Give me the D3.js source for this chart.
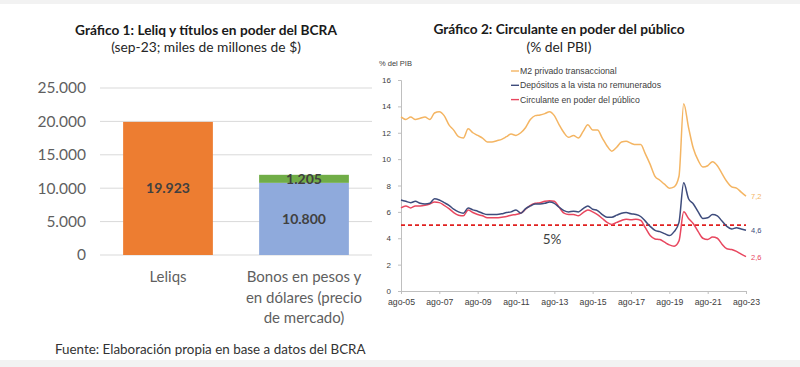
<!doctype html>
<html lang="es">
<head>
  <meta charset="utf-8">
  <script src="https://cdnjs.cloudflare.com/ajax/libs/d3/7.8.5/d3.min.js"></script>
  <style>
    body { margin: 0; background: #fff; }
    svg { display: block; }
  </style>
</head>
<body>
  <div id="chart"></div>
  <script>
    // ---- Gráfico 1 data
    var barCats = ["Leliqs", "Bonos"];
    var barCatLines = [["Leliqs"], ["Bonos en pesos y", "en dólares (precio", "de mercado)"]];
    var leliqs = [19923, 0];
    var bonosBase = [0, 10800];
    var bonosTop = [0, 1205];
    var barTicks = [0, 5000, 10000, 15000, 20000, 25000];

    // ---- Gráfico 2 data (quarterly, % del PIB)
    var dates = [
      "2005-08","2005-11","2006-02","2006-05","2006-08","2006-11","2007-02","2007-05","2007-08","2007-11",
      "2008-02","2008-05","2008-08","2008-11","2009-02","2009-05","2009-08","2009-11","2010-02","2010-05",
      "2010-08","2010-11","2011-02","2011-05","2011-08","2011-11","2012-02","2012-05","2012-08","2012-11",
      "2013-02","2013-05","2013-08","2013-11","2014-02","2014-05","2014-08","2014-11","2015-02","2015-05",
      "2015-08","2015-11","2016-02","2016-05","2016-08","2016-11","2017-02","2017-05","2017-08","2017-11",
      "2018-02","2018-05","2018-08","2018-11","2019-02","2019-05","2019-08","2019-11","2020-02","2020-05",
      "2020-08","2020-11","2021-02","2021-05","2021-08","2021-11","2022-02","2022-05","2022-08","2022-11",
      "2023-02","2023-05","2023-08"
    ];
    var m2 = [
      13.2,13.0,13.2,13.0,13.1,13.2,13.0,13.5,13.6,13.3,
      12.6,12.2,11.7,11.6,12.3,12.0,11.8,11.6,11.3,11.3,
      11.4,11.5,11.7,11.9,11.8,12.0,12.4,13.0,13.3,13.35,
      13.45,13.6,13.3,12.6,12.0,11.65,11.8,11.6,12.1,12.6,
      12.2,12.2,11.6,11.0,10.6,10.9,11.3,11.35,11.2,11.1,
      11.1,10.4,9.6,8.7,8.4,8.1,7.8,7.9,8.7,14.2,
      12.4,10.8,9.9,9.4,9.5,9.8,9.5,8.9,8.3,7.9,
      7.8,7.5,7.2
    ];
    var depositos = [
      6.9,6.8,6.7,6.8,6.65,6.6,6.65,7.0,6.9,6.7,
      6.5,6.2,6.0,5.9,6.3,6.15,6.05,5.9,5.8,5.8,
      5.8,5.85,5.95,6.0,6.15,5.9,6.25,6.45,6.6,6.6,
      6.65,6.75,6.65,6.35,6.1,6.0,6.05,6.0,6.25,6.45,
      6.2,6.1,5.8,5.6,5.6,5.75,5.9,5.95,5.85,5.8,
      5.65,5.3,4.9,4.6,4.5,4.35,4.2,4.5,5.2,8.2,
      7.0,6.6,6.0,5.5,5.55,5.8,5.7,5.3,4.9,4.7,
      4.8,4.7,4.6
    ];
    var circulante = [
      6.3,6.45,6.3,6.45,6.45,6.5,6.6,6.75,6.7,6.5,
      6.25,5.95,5.75,5.7,6.15,5.95,5.8,5.7,5.55,5.55,
      5.55,5.6,5.65,5.75,5.8,5.9,6.2,6.5,6.65,6.7,
      6.8,6.85,6.8,6.35,5.9,5.8,5.8,5.7,5.95,6.15,
      6.0,5.8,5.5,5.2,5.05,5.2,5.35,5.45,5.4,5.45,
      5.35,4.8,4.2,3.95,3.9,3.7,3.5,3.4,3.8,6.0,
      5.5,5.1,4.5,4.0,3.9,4.1,4.0,3.55,3.2,3.15,
      3.0,2.8,2.6
    ];
    var seriesNames = ["M2 privado transaccional", "Depósitos a la vista no remunerados", "Circulante en poder del público"];
    var seriesColors = ["#f4b563", "#3e4c7c", "#e8475f"];
    var endLabels = ["7,2", "4,6", "2,6"];
    var lineTicks = [0, 2, 4, 6, 8, 10, 12, 14, 16];
    var xTickDates = ["2005-08","2007-08","2009-08","2011-08","2013-08","2015-08","2017-08","2019-08","2021-08","2023-08"];
    var xTickLabels = ["ago-05","ago-07","ago-09","ago-11","ago-13","ago-15","ago-17","ago-19","ago-21","ago-23"];
    var refLevel = 5;

    var width = 800, height = 367;
    var svg = d3.select("#chart").append("svg")
      .attr("width", width)
      .attr("height", height);

    // grey strips top and bottom
    svg.append("rect").attr("x", 0).attr("y", 0).attr("width", width).attr("height", 4).attr("fill", "#f2f2f2");
    svg.append("rect").attr("x", 0).attr("y", 360).attr("width", width).attr("height", 7).attr("fill", "#f2f2f2");

    var leftFont = "Lato, 'Open Sans', sans-serif";
    var rightFont = "'Liberation Sans', Arial, sans-serif";

    // ================= Gráfico 1 =================
    var g1 = svg.append("g");
    g1.append("text").attr("x", 206).attr("y", 35).attr("text-anchor", "middle")
      .style("font-family", leftFont).style("font-size", "13.7px").style("font-weight", "bold").attr("fill", "#1a1a1a")
      .text("Gráfico 1: Leliq y títulos en poder del BCRA");
    g1.append("text").attr("x", 206).attr("y", 52).attr("text-anchor", "middle")
      .style("font-family", leftFont).style("font-size", "13.8px").attr("fill", "#262626")
      .text("(sep-23; miles de millones de $)");

    var xb = d3.scaleBand().domain(barCats).range([100, 372]).paddingInner(0.34).paddingOuter(0.17);
    var yb = d3.scaleLinear().domain([0, 25000]).range([255, 88]);

    // gridlines
    g1.append("g").selectAll("line").data(barTicks).enter().append("line")
      .attr("x1", 100).attr("x2", 372)
      .attr("y1", function(d) { return yb(d); })
      .attr("y2", function(d) { return yb(d); })
      .attr("stroke", "#d9d9d9").attr("stroke-width", 1);

    var yAxisB = d3.axisLeft(yb).tickValues(barTicks).tickSize(0).tickPadding(0)
      .tickFormat(function(d) { return d3.format(",")(d).replace(/,/g, "."); });
    var yAx = g1.append("g").attr("transform", "translate(86,0)").call(yAxisB);
    yAx.select(".domain").remove();
    yAx.selectAll("text").style("font-family", leftFont).style("font-size", "15.5px").attr("fill", "#5f5f5f");

    // bars
    var idx = d3.range(barCats.length);
    g1.append("g").selectAll("rect.lel").data(idx.filter(function(i) { return leliqs[i] > 0; })).enter().append("rect")
      .attr("x", function(i) { return xb(barCats[i]); })
      .attr("y", function(i) { return yb(leliqs[i]); })
      .attr("width", xb.bandwidth())
      .attr("height", function(i) { return yb(0) - yb(leliqs[i]); })
      .attr("fill", "#ed7d31");
    g1.append("g").selectAll("rect.base").data(idx.filter(function(i) { return bonosBase[i] > 0; })).enter().append("rect")
      .attr("x", function(i) { return xb(barCats[i]); })
      .attr("y", function(i) { return yb(bonosBase[i]); })
      .attr("width", xb.bandwidth())
      .attr("height", function(i) { return yb(0) - yb(bonosBase[i]); })
      .attr("fill", "#8faadc");
    g1.append("g").selectAll("rect.top").data(idx.filter(function(i) { return bonosTop[i] > 0; })).enter().append("rect")
      .attr("x", function(i) { return xb(barCats[i]); })
      .attr("y", function(i) { return yb(bonosBase[i] + bonosTop[i]); })
      .attr("width", xb.bandwidth())
      .attr("height", function(i) { return yb(bonosBase[i]) - yb(bonosBase[i] + bonosTop[i]); })
      .attr("fill", "#70ad47");

    // bar labels
    var fmt = function(v) { return d3.format(",")(v).replace(/,/g, "."); };
    var labels = [];
    idx.forEach(function(i) {
      var cx = xb(barCats[i]) + xb.bandwidth() / 2;
      if (leliqs[i] > 0) labels.push({x: cx, y: (yb(0) + yb(leliqs[i])) / 2, t: fmt(leliqs[i])});
      if (bonosBase[i] > 0) labels.push({x: cx, y: (yb(0) + yb(bonosBase[i])) / 2, t: fmt(bonosBase[i])});
      if (bonosTop[i] > 0) labels.push({x: cx, y: (yb(bonosBase[i]) + yb(bonosBase[i] + bonosTop[i])) / 2, t: fmt(bonosTop[i])});
    });
    g1.append("g").selectAll("text").data(labels).enter().append("text")
      .attr("x", function(d) { return d.x; })
      .attr("y", function(d) { return d.y; })
      .attr("dy", "0.35em")
      .attr("text-anchor", "middle")
      .style("font-family", leftFont).style("font-size", "14px").style("font-weight", "bold")
      .attr("fill", "#404040")
      .text(function(d) { return d.t; });

    // category labels
    idx.forEach(function(i) {
      var t = g1.append("text").attr("text-anchor", "middle")
        .style("font-family", leftFont).style("font-size", "15px").attr("fill", "#5f5f5f");
      barCatLines[i].forEach(function(line, j) {
        t.append("tspan").attr("x", xb(barCats[i]) + xb.bandwidth() / 2).attr("y", 282 + j * 20.5).text(line);
      });
    });

    // footer
    svg.append("text").attr("x", 55).attr("y", 354)
      .style("font-family", leftFont).style("font-size", "13.4px").attr("fill", "#333")
      .text("Fuente: Elaboración propia en base a datos del BCRA");

    // ================= Gráfico 2 =================
    var g2 = svg.append("g");
    g2.append("text").attr("x", 559).attr("y", 34).attr("text-anchor", "middle")
      .style("font-family", leftFont).style("font-size", "13.7px").style("font-weight", "bold").attr("fill", "#1a1a1a")
      .text("Gráfico 2: Circulante en poder del público");
    g2.append("text").attr("x", 559).attr("y", 52).attr("text-anchor", "middle")
      .style("font-family", leftFont).style("font-size", "13.8px").attr("fill", "#262626")
      .text("(% del PBI)");

    var parse = d3.timeParse("%Y-%m");
    var dd = dates.map(parse);
    var xl = d3.scaleTime().domain([parse("2005-08"), parse("2023-08")]).range([401, 746]);
    var yl = d3.scaleLinear().domain([0, 16]).range([291, 80]);

    g2.append("text").attr("x", 379).attr("y", 66)
      .style("font-family", rightFont).style("font-size", "7.5px").attr("fill", "#404040")
      .text("% del PIB");

    var yAxisL = d3.axisLeft(yl).tickValues(lineTicks).tickSize(3).tickPadding(7);
    var yA = g2.append("g").attr("transform", "translate(401,0)").call(yAxisL);
    yA.select(".domain").attr("stroke", "#bfbfbf");
    yA.selectAll(".tick line").attr("stroke", "#bfbfbf");
    yA.selectAll("text").style("font-family", rightFont).style("font-size", "8px").attr("fill", "#404040");

    var xAxisL = d3.axisBottom(xl).tickValues(xTickDates.map(parse)).tickSize(3).tickPadding(5)
      .tickFormat(function(d, i) { return xTickLabels[i]; });
    var xA = g2.append("g").attr("transform", "translate(0,291)").call(xAxisL);
    xA.select(".domain").attr("stroke", "#bfbfbf");
    xA.selectAll(".tick line").attr("stroke", "#bfbfbf");
    xA.selectAll("text").style("font-family", rightFont).style("font-size", "8.7px").attr("fill", "#404040");

    // reference line 5%
    g2.append("line")
      .attr("x1", xl(parse("2005-08"))).attr("x2", xl(parse("2023-08")))
      .attr("y1", yl(refLevel)).attr("y2", yl(refLevel))
      .attr("stroke", "#e0201f").attr("stroke-width", 1.8).attr("stroke-dasharray", "4,3");
    g2.append("text").attr("x", 552).attr("y", yl(refLevel) + 19).attr("text-anchor", "middle")
      .style("font-family", leftFont).style("font-size", "13.5px").attr("fill", "#404040")
      .text("5%");

    var allSeries = [m2, depositos, circulante];
    var line = d3.line()
      .x(function(d, i) { return xl(dd[i]); })
      .y(function(d) { return yl(d); })
      .curve(d3.curveMonotoneX);

    // draw circulante under depositos as in the original
    [0, 2, 1].forEach(function(s) {
      g2.append("path").datum(allSeries[s])
        .attr("d", line)
        .attr("fill", "none")
        .attr("stroke", seriesColors[s])
        .attr("stroke-width", 1.5);
    });

    // end labels
    allSeries.forEach(function(vals, s) {
      g2.append("text")
        .attr("x", xl(dd[dd.length - 1]) + 5)
        .attr("y", yl(vals[vals.length - 1]) + 3)
        .style("font-family", rightFont).style("font-size", "7.5px")
        .attr("fill", seriesColors[s])
        .text(endLabels[s]);
    });

    // legend
    var lg = g2.append("g").attr("transform", "translate(511,71)");
    seriesNames.forEach(function(name, s) {
      lg.append("line").attr("x1", 0).attr("x2", 8)
        .attr("y1", s * 14.3).attr("y2", s * 14.3)
        .attr("stroke", seriesColors[s]).attr("stroke-width", 1.4);
      lg.append("text").attr("x", 9).attr("y", s * 14.3).attr("dy", "0.35em")
        .style("font-family", rightFont).style("font-size", "8.7px").attr("fill", "#404040")
        .text(name);
    });
  </script>
</body>
</html>
